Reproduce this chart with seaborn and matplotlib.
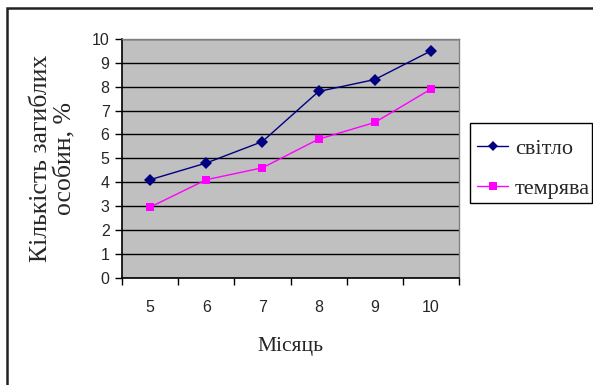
import matplotlib
matplotlib.use("Agg")
import matplotlib.pyplot as plt
from matplotlib.patches import Rectangle
from matplotlib.ticker import FixedLocator, NullFormatter
import seaborn as sns
import pandas as pd

months = [5, 6, 7, 8, 9, 10]
light = [4.1, 4.8, 5.7, 7.8, 8.3, 9.5]
dark = [2.95, 4.1, 4.6, 5.8, 6.5, 7.9]
series_names = ["світло", "темрява"]
y_ticks = list(range(0, 11))

df = pd.DataFrame({
    "Місяць": months * 2,
    "value": light + dark,
    "series": [series_names[0]] * len(months) + [series_names[1]] * len(months),
})

sns.set_theme(style="white")
plt.rcParams["font.family"] = ["Liberation Sans", "DejaVu Sans"]
serif = ["Liberation Serif", "DejaVu Serif"]

W, H = 593, 385
fig = plt.figure(figsize=(W / 100, H / 100), dpi=100)
ax = fig.add_axes([122 / W, 1 - 277.5 / H, 337 / W, 238.5 / H])
ax.set_facecolor("#C0C0C0")

sns.lineplot(
    data=df, x="Місяць", y="value", hue="series", style="series",
    palette={series_names[0]: "#000080", series_names[1]: "#FF00FF"},
    markers={series_names[0]: "D", series_names[1]: "s"},
    dashes=False, markersize=6, linewidth=1.0, markeredgewidth=0,
    ax=ax, legend=False,
)

ax.set_xlim(4.5, 10.5)
ax.set_ylim(0, 10)
ax.set_yticks(y_ticks)
ax.yaxis.grid(True, color="black", linewidth=1.0)
ax.set_axisbelow(True)

# month labels sit in the middle of each category, tick marks on the boundaries
ax.set_xticks(months)
ax.set_xticklabels([str(m) for m in months])
ax.tick_params(axis="x", which="major", length=0, pad=16, labelsize=11.5)
ax.xaxis.set_minor_locator(FixedLocator([m - 0.5 for m in months] + [10.5]))
ax.xaxis.set_minor_formatter(NullFormatter())
ax.tick_params(axis="x", which="minor", length=5, width=1, color="black", direction="out", bottom=True)
ax.tick_params(axis="y", length=5, width=1, color="black", direction="out", labelsize=11.5, pad=4, left=True)

for side in ("left", "bottom"):
    ax.spines[side].set_color("black")
    ax.spines[side].set_linewidth(1.2)
for side in ("top", "right"):
    ax.spines[side].set_color("#808080")
    ax.spines[side].set_linewidth(1.0)

ax.set_xlabel("Місяць", family=serif, fontsize=15.5, labelpad=16)
ax.set_ylabel("Кількість загиблих\nособин, %", family=serif,
              fontsize=18.5, labelpad=11, linespacing=1.15)

handles = [
    plt.Line2D([], [], color="#000080", marker="D", markersize=5, linewidth=1.0, markeredgewidth=0),
    plt.Line2D([], [], color="#FF00FF", marker="s", markersize=6, linewidth=1.0, markeredgewidth=0),
]
leg = fig.legend(
    handles, series_names, loc="upper left",
    bbox_to_anchor=(477 / W, 1 - 138 / H),
    frameon=False, borderaxespad=0, borderpad=0,
    prop={"family": serif, "size": 16},
    handlelength=1.4, handletextpad=0.3, labelspacing=0.9,
)

# legend frame
fig.patches.append(Rectangle((470 / W, 1 - 203 / H), 122 / W, 80 / H,
                             transform=fig.transFigure, fill=False,
                             edgecolor="black", linewidth=1.0))

# outer chart frame, running off the right and bottom edges
fig.patches.append(Rectangle((7 / W, -0.2), 1.2, 1.2 - 8 / H,
                             transform=fig.transFigure, fill=False,
                             edgecolor="#222222", linewidth=1.8))

fig.savefig("out.png", dpi=100)
